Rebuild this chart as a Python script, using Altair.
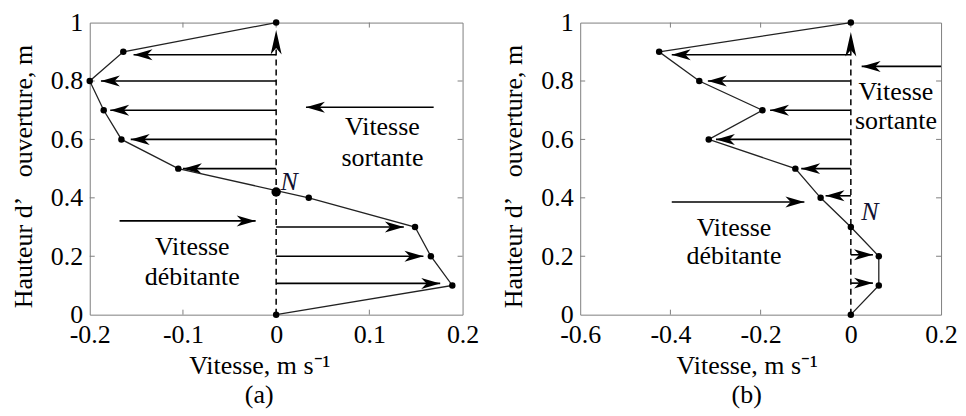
import altair as alt
import pandas as pd

FONT = "'Liberation Serif', 'Times New Roman', serif"

# ---------------- data ----------------
heights = [0, 0.1, 0.2, 0.3, 0.4, 0.5, 0.6, 0.7, 0.8, 0.9, 1.0]
speed_a = [0, 0.189, 0.166, 0.149, 0.035, -0.105, -0.166, -0.185, -0.2, -0.164, 0]
speed_b = [0, 0.062, 0.062, 0, -0.067, -0.123, -0.315, -0.196, -0.336, -0.425, 0]

# velocity arrows drawn from x=0 to their tip
arrow_y_a = [0.89, 0.8, 0.7, 0.6, 0.5, 0.3, 0.2, 0.107]
arrow_tip_a = [-0.153, -0.188, -0.178, -0.156, -0.1, 0.137, 0.158, 0.176]
arrow_y_b = [0.89, 0.8, 0.7, 0.6, 0.5, 0.407, 0.205, 0.108]
arrow_tip_b = [-0.397, -0.317, -0.179, -0.299, -0.11, -0.056, 0.049, 0.049]

# neutral point of panel (a)
neutral_a_x = [0.0]
neutral_a_y = [0.42]

# dashed vertical axis arrow top
vert_top_a = 0.975
vert_top_b = 0.968

# annotation arrows: (y, x_start, x_end)
note_arrows_a = [(0.71, 0.169, 0.032), (0.321, -0.168, -0.022)]
note_arrows_b = [(0.85, 0.2, 0.024), (0.386, -0.397, -0.103)]

# annotation texts: (text, x, y)
texts_a = [("Vitesse", 0.114, 0.643), ("sortante", 0.114, 0.535),
           ("Vitesse", -0.09, 0.231), ("débitante", -0.09, 0.129)]
texts_b = [("Vitesse", 0.1, 0.763), ("sortante", 0.1, 0.664),
           ("Vitesse", -0.259, 0.298), ("débitante", -0.259, 0.2)]
n_label_a = (0.014, 0.455)
n_label_b = (0.042, 0.35)

xticks_a = [-0.2, -0.1, 0, 0.1, 0.2]
xticks_b = [-0.6, -0.4, -0.2, 0, 0.2]
yticks = [0, 0.2, 0.4, 0.6, 0.8, 1]

# arrowhead shapes (tip at origin)
HEAD_L = "M0,0 L1,-0.29 L0.72,0 L1,0.29 Z"
HEAD_R = "M0,0 L-1,-0.29 L-0.72,0 L-1,0.29 Z"
HEAD_U = "M0,0 L-0.29,1.3 L0,0.95 L0.29,1.3 Z"


def panel(speeds, ay, atip, vtop, notes, texts, nlab, xdom, xticks, caption,
          w, h, title_x, neutral=None):
    xs = alt.Scale(domain=xdom, nice=False, zero=False)
    ys = alt.Scale(domain=[0, 1], nice=False, zero=False)
    xaxis = alt.Axis(values=xticks, labelExpr="datum.value + ''", title="Vitesse, m s\u207b\u00b9",
                     labelFlush=False, labelOverlap=False, labelPadding=7,
                     titleX=title_x, titlePadding=5)
    yaxis = alt.Axis(values=yticks, labelExpr="datum.value + ''",
                     title="Hauteur d\u2019\u00a0\u00a0\u00a0ouverture, m",
                     labelFlush=False, labelOverlap=False, labelPadding=7,
                     titlePadding=14, titleY=154)

    def X(f="x"):
        return alt.X(f, type="quantitative", scale=xs, axis=xaxis)

    def Y(f="y"):
        return alt.Y(f, type="quantitative", scale=ys, axis=yaxis)

    prof = pd.DataFrame({"x": speeds, "y": heights})
    line = alt.Chart(prof).mark_line(color="#222222", strokeWidth=1.3).encode(
        x=X(), y=Y(), order="y:Q")
    dots = alt.Chart(prof).mark_circle(color="black", size=42, opacity=1).encode(x=X(), y=Y())

    # arrows
    rows = []
    for yy, tip in zip(ay, atip):
        rows.append({"x": 0.0, "x2": tip, "y": yy, "dir": "L" if tip < 0 else "R"})
    for yy, x0, x1 in notes:
        rows.append({"x": x0, "x2": x1, "y": yy, "dir": "L" if x1 < x0 else "R"})
    arr = pd.DataFrame(rows)
    shafts = alt.Chart(arr).mark_rule(color="black", strokeWidth=1.6).encode(
        x=X(), x2="x2:Q", y=Y())
    heads_df = pd.DataFrame({"x": arr["x2"], "y": arr["y"], "dir": arr["dir"]})
    heads_df = pd.concat([heads_df, pd.DataFrame({"x": [0.0], "y": [vtop], "dir": ["U"]})])
    heads = alt.Chart(heads_df).mark_point(filled=True, color="black", opacity=1,
                                           strokeWidth=0, size=1444).encode(
        x=X(), y=Y(),
        shape=alt.Shape("dir:N", scale=alt.Scale(domain=["L", "R", "U"],
                                                 range=[HEAD_L, HEAD_R, HEAD_U]),
                        legend=None))
    vert = alt.Chart(pd.DataFrame({"x": [0.0], "y": [0.0], "y2": [vtop - 0.02]})).mark_rule(
        color="black", strokeWidth=1.5, strokeDash=[6, 4]).encode(x=X(), y=Y(), y2="y2:Q")

    tx = pd.DataFrame(texts, columns=["t", "x", "y"])
    labels = alt.Chart(tx).mark_text(font=FONT, fontSize=26, color="black",
                                     baseline="middle", align="center").encode(
        x=X(), y=Y(), text="t:N")
    ndf = pd.DataFrame({"t": ["N"], "x": [nlab[0]], "y": [nlab[1]]})
    nmark = alt.Chart(ndf).mark_text(font=FONT, fontSize=26, fontStyle="italic",
                                     color="#101030", baseline="middle",
                                     align="center").encode(x=X(), y=Y(), text="t:N")

    # inner ticks on the four sides
    inner_x = [v for v in xticks[1:-1]]
    inner_y = [v for v in yticks[1:-1]]
    txd = pd.DataFrame({"x": inner_x})
    tyd = pd.DataFrame({"y": inner_y})
    tick_col = "#808080"
    tb = alt.Chart(txd).mark_rule(color=tick_col, strokeWidth=1).encode(
        x=X(), y=alt.value(h), y2=alt.value(h - 5))
    tt = alt.Chart(txd).mark_rule(color=tick_col, strokeWidth=1).encode(
        x=X(), y=alt.value(0), y2=alt.value(5))
    tl = alt.Chart(tyd).mark_rule(color=tick_col, strokeWidth=1).encode(
        y=Y(), x=alt.value(0), x2=alt.value(5))
    tr = alt.Chart(tyd).mark_rule(color=tick_col, strokeWidth=1).encode(
        y=Y(), x=alt.value(w), x2=alt.value(w - 5))

    cap = alt.Chart(pd.DataFrame({"t": [caption]})).mark_text(
        font=FONT, fontSize=26, color="black", baseline="middle", align="center").encode(
        text="t:N", x=alt.value(title_x), y=alt.value(h + 81))

    layers = [tb, tt, tl, tr, vert, shafts, heads, line, dots]
    if neutral is not None:
        ndot = alt.Chart(pd.DataFrame({"x": neutral[0], "y": neutral[1]})).mark_circle(
            color="black", size=90, opacity=1).encode(x=X(), y=Y())
        layers.append(ndot)
    layers += [labels, nmark, cap]
    return alt.layer(*layers).properties(width=w, height=h)


pa = panel(speed_a, arrow_y_a, arrow_tip_a, vert_top_a, note_arrows_a, texts_a, n_label_a,
           [-0.2, 0.2], xticks_a, "(a)", 374, 293, 170, neutral=(neutral_a_x, neutral_a_y))
pb = panel(speed_b, arrow_y_b, arrow_tip_b, vert_top_b, note_arrows_b, texts_b, n_label_b,
           [-0.6, 0.2], xticks_b, "(b)", 362, 293, 167)

chart = alt.hconcat(pa, pb, spacing=20).properties(
    padding={"left": 1, "top": 0, "right": 0, "bottom": 0}
).configure_view(stroke="#808080", strokeWidth=1).configure_axis(
    labelFont=FONT, labelFontSize=26, labelColor="black",
    titleFont=FONT, titleFontSize=26, titleFontWeight="normal", titleColor="black",
    domain=False, ticks=False, grid=False
)

chart.save("out.html", embed_options={"renderer": "svg", "actions": False})
